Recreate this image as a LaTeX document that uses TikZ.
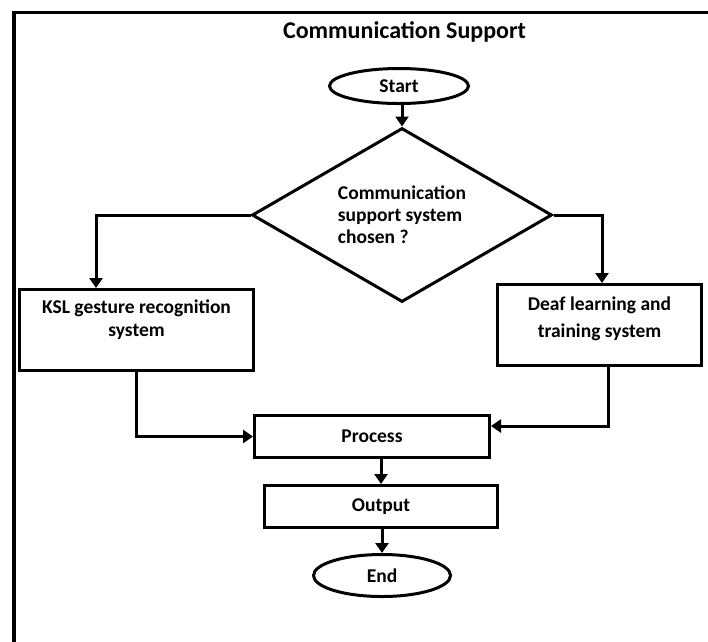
\documentclass[tikz,border=0pt]{standalone}
\usepackage{fontspec}
\setmainfont{Carlito}
\usetikzlibrary{shapes.geometric,arrows.meta,calc}
\begin{document}
\begin{tikzpicture}[x=1pt,y=-1pt,
  lw/.style={line width=3pt},
  box/.style={draw,lw,rectangle,inner sep=0pt},
  term/.style={draw,lw,ellipse,inner sep=0pt},
  lbl/.style={font=\bfseries\fontsize{19.5}{22}\selectfont,align=center,inner sep=0pt},
  arr/.style={lw,-{Triangle[length=10pt,width=13pt]}}
]
\useasboundingbox (0,0) rectangle (708,641);
\clip (0,0) rectangle (708,641);
% outer frame (runs off the right and bottom edges)
\draw[line width=3.5pt] (14,700) -- (14,12.5) -- (760,12.5);

\node[font=\bfseries\fontsize{24}{28}\selectfont, inner sep=0pt] (title) at (404.5,32) {Communication Support};

\node[term, lbl, minimum width=139, minimum height=35] (start) at (399,86) {Start};

\node[draw, lw, diamond, aspect=1.72, minimum width=300, minimum height=174,
      lbl, align=left] (dia) at (402,215) {Communication\\support system\\chosen ?};

\node[box, minimum width=234, minimum height=81] (ksl) at (136.5,330) {};
\node[lbl, font=\bfseries\fontsize{19.5}{23}\selectfont] (ksltxt) at (136.5,320) {KSL gesture recognition\\system};

\node[box, minimum width=204, minimum height=81] (deaf) at (599.5,325) {};
\node[lbl, font=\bfseries\fontsize{19.5}{27}\selectfont] (deaftxt) at (599.5,318.5) {Deaf learning and\\training system};

\node[box, lbl, minimum width=235, minimum height=42] (proc) at (372,436.5) {Process};
\node[box, lbl, minimum width=233, minimum height=42] (out) at (381,506.5) {Output};
\node[term, lbl, minimum width=137, minimum height=42] (end) at (382,575.5) {End};

% connectors
\draw[arr] (start.south -| dia.north) -- (dia.north);
\draw[arr] (dia.west) -| ([xshift=-40.5pt]ksl.north);
\draw[arr] (dia.east) -| ([xshift=2.5pt]deaf.north);
\draw[arr] (ksl.south) |- (proc.west);
\draw[arr] ([xshift=8.5pt]deaf.south) |- ([yshift=10.5pt]proc.east);
\draw[arr] (out.north |- proc.south) -- (out.north);
\draw[arr] (end.north |- out.south) -- (end.north);
\end{tikzpicture}
\end{document}
